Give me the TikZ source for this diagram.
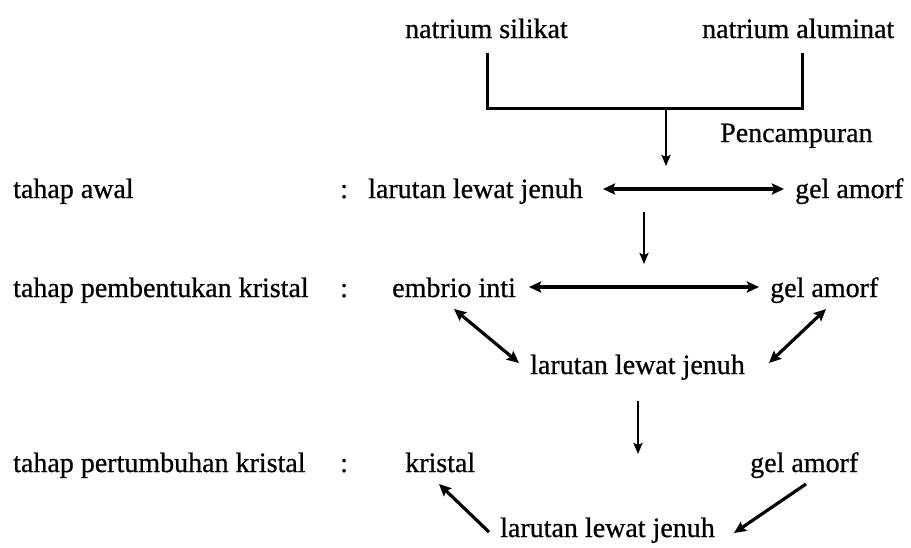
\documentclass[tikz,border=0pt]{standalone}
\usepackage{fontspec}
\setmainfont[FakeBold=0.7]{Liberation Serif}
\usetikzlibrary{arrows.meta}
\begin{document}
\begin{tikzpicture}[x=1pt,y=-1pt,
  lbl/.style={anchor=base west,inner sep=0pt,font=\fontsize{28}{30}\selectfont},
  ln/.style={line width=3pt},
  arr/.style={line width=3.2pt,-{Stealth[length=12pt,width=11pt,inset=2pt]}},
  darr/.style={line width=3.2pt,{Stealth[length=12pt,width=11pt,inset=2pt]}-{Stealth[length=12pt,width=11pt,inset=2pt]}},
  varr/.style={line width=2.4pt,-{Stealth[length=11pt,width=9pt,inset=2pt]}}]
\useasboundingbox (0,0) rectangle (911,547);
% top
\node[lbl] (ns) at (405,38) {natrium silikat};
\node[lbl] (na) at (702,38) {natrium aluminat};
\node[lbl] (pc) at (720,142) {Pencampuran};
% row 1
\node[lbl] (t1) at (13,198) {tahap awal};
\node[lbl] (c1) at (340,198) {:};
\node[lbl] (l1) at (368,198) {larutan lewat jenuh};
\node[lbl] (g1) at (795,198) {gel amorf};
% row 2
\node[lbl] (t2) at (13,297) {tahap pembentukan kristal};
\node[lbl] (c2) at (340,297) {:};
\node[lbl] (e2) at (392,297) {embrio inti};
\node[lbl] (g2) at (770,297) {gel amorf};
\node[lbl] (l2) at (530,374) {larutan lewat jenuh};
% row 3
\node[lbl] (t3) at (13,472) {tahap pertumbuhan kristal};
\node[lbl] (c3) at (340,472) {:};
\node[lbl] (k3) at (405,472) {kristal};
\node[lbl] (g3) at (750,472) {gel amorf};
\node[lbl] (l3) at (500,537) {larutan lewat jenuh};
% bracket
\coordinate (bl0) at (487,53);
\coordinate (bl1) at (487,108);
\coordinate (br0) at (802,53);
\coordinate (br1) at (802,108);
\coordinate (j) at (666,108);
\coordinate (j1) at (666,166);
\draw[ln] (bl0) -- (bl1) -- (br1) -- (br0);
\draw[varr] (j) -- (j1);
% row 1 arrows
\coordinate (a1l) at (603,189);
\coordinate (a1r) at (784,189);
\draw[darr] (a1l) -- (a1r);
\coordinate (d2a) at (644,212);
\coordinate (d2b) at (644,264);
\draw[varr] (d2a) -- (d2b);
% row 2 arrows
\coordinate (a2l) at (529,287);
\coordinate (a2r) at (759,287);
\draw[darr] (a2l) -- (a2r);
\coordinate (q1) at (454,309);
\coordinate (q2) at (519,363);
\draw[darr] (q1) -- (q2);
\coordinate (q3) at (826,309);
\coordinate (q4) at (769,363);
\draw[darr] (q3) -- (q4);
\coordinate (d3a) at (638,401);
\coordinate (d3b) at (638,454);
\draw[varr] (d3a) -- (d3b);
% row 3 arrows
\coordinate (r1) at (489,532);
\coordinate (r2) at (439,484);
\draw[arr] (r1) -- (r2);
\coordinate (r3) at (806,484);
\coordinate (r4) at (734,533);
\draw[arr] (r3) -- (r4);
\end{tikzpicture}
\end{document}
